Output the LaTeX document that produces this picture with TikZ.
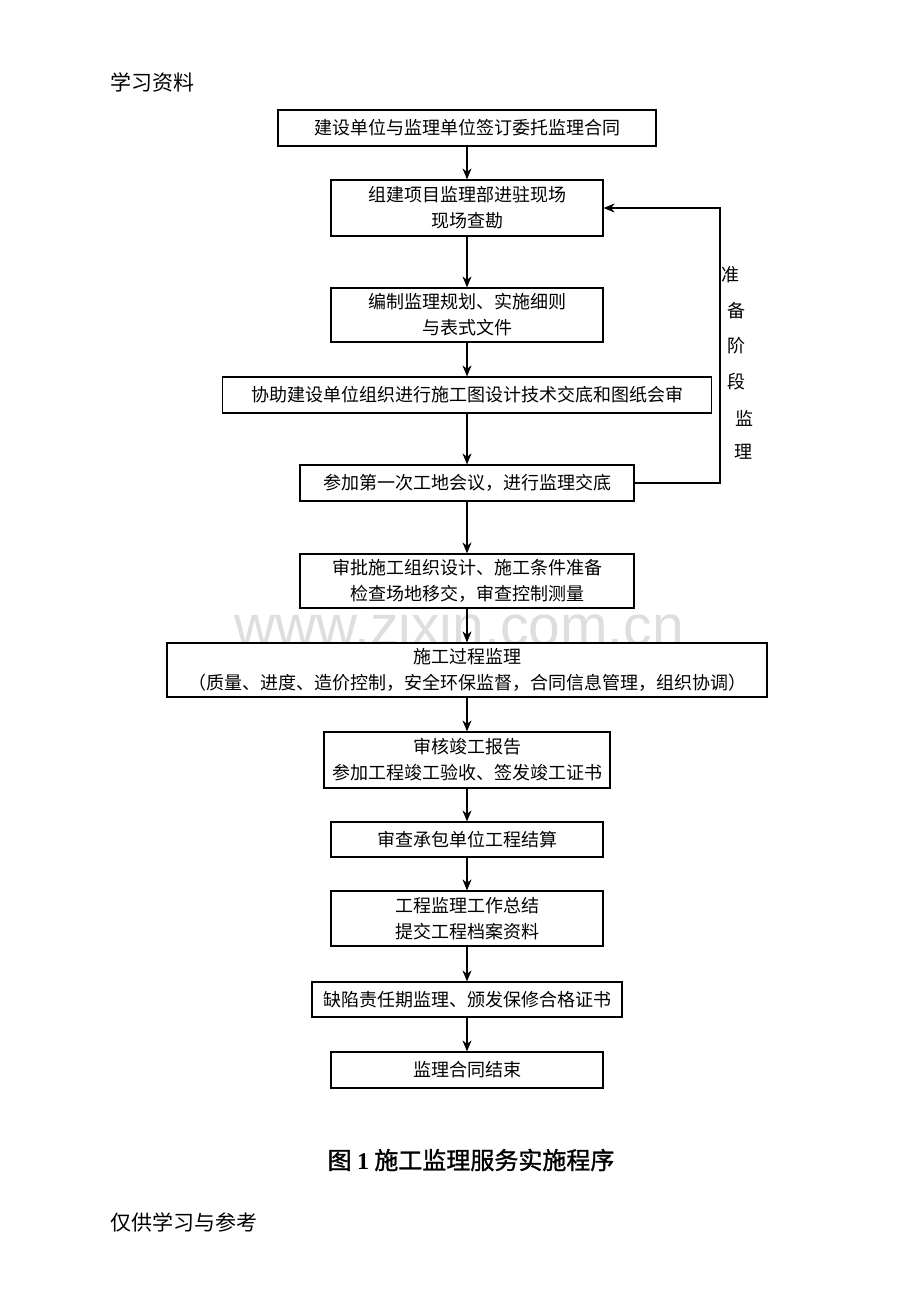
\documentclass[tikz,border=0pt]{standalone}
\usepackage{fontspec}
\setmainfont{Liberation Serif}
\newfontfamily\cjk{Noto Sans CJK SC}
\newfontfamily\cjkbold[FakeBold=1.2]{Noto Sans CJK SC}
\newfontfamily\wmfont{Liberation Sans}
\usetikzlibrary{arrows.meta}
\begin{document}
\begin{tikzpicture}[x=1pt,y=-1pt,
  box/.style={draw, line width=1.2pt, fill=white, align=center, inner sep=0pt,
    font=\cjk\fontsize{18}{26}\selectfont},
  arr/.style={line width=1.2pt, -{Stealth[length=11pt,width=9pt,inset=3.5pt]}},
  vlabel/.style={font=\cjk\fontsize{18}{22}\selectfont, inner sep=0pt},
  plain/.style={font=\cjk\fontsize{21}{24}\selectfont, inner sep=0pt, anchor=west},
]
\useasboundingbox (0,0) rectangle (920,1302);
\fill[white] (0,0) rectangle (920,1302);

% watermark
\node[font=\wmfont\fontsize{57}{60}\selectfont, text=black!13, inner sep=0pt, text height=32pt, text depth=0pt, anchor=base] (wm) at (459,645) {www.zixin.com.cn};

% header / footer
\node[plain] (hdr) at (110,82) {学习资料};
\node[plain] (ftr) at (110,1222) {仅供学习与参考};

% boxes
\node[box, minimum width=378, minimum height=36] (b1) at (467,128) {建设单位与监理单位签订委托监理合同};
\node[box, minimum width=272, minimum height=56] (b2) at (467,208) {组建项目监理部进驻现场\\现场查勘};
\node[box, minimum width=272, minimum height=54] (b3) at (467,315) {编制监理规划、实施细则\\与表式文件};
\node[box, minimum width=489, minimum height=36] (b4) at (467,395) {协助建设单位组织进行施工图设计技术交底和图纸会审};
\node[box, minimum width=334, minimum height=36] (b5) at (467,483) {参加第一次工地会议，进行监理交底};
\node[box, minimum width=334, minimum height=54] (b6) at (467,581) {审批施工组织设计、施工条件准备\\检查场地移交，审查控制测量};
\node[box, minimum width=600, minimum height=54] (b7) at (467,670) {施工过程监理\\（质量、进度、造价控制，安全环保监督，合同信息管理，组织协调）};
\node[box, minimum width=286, minimum height=56] (b8) at (467,760) {审核竣工报告\\参加工程竣工验收、签发竣工证书};
\node[box, minimum width=272, minimum height=35] (b9) at (467,839.5) {审查承包单位工程结算};
\node[box, minimum width=272, minimum height=55] (b10) at (467,918.5) {工程监理工作总结\\提交工程档案资料};
\node[box, minimum width=310, minimum height=35] (b11) at (467,999.5) {缺陷责任期监理、颁发保修合格证书};
\node[box, minimum width=272, minimum height=36] (b12) at (467,1070) {监理合同结束};

% vertical arrows
\draw[arr] (b1) -- (b2);
\draw[arr] (b2) -- (b3);
\draw[arr] (b3) -- (b4);
\draw[arr] (b4) -- (b5);
\draw[arr] (b5) -- (b6);
\draw[arr] (b6) -- (b7);
\draw[arr] (b7) -- (b8);
\draw[arr] (b8) -- (b9);
\draw[arr] (b9) -- (b10);
\draw[arr] (b10) -- (b11);
\draw[arr] (b11) -- (b12);

% feedback loop
\coordinate (fbx) at (720,0);
\draw[arr] (b5.east) -- (b5.east -| fbx) |- (b2.east);

% vertical label
\node[vlabel] (v1) at (730,275) {准};
\node[vlabel] (v2) at (736,311) {备};
\node[vlabel] (v3) at (736,346) {阶};
\node[vlabel] (v4) at (736,382) {段};
\node[vlabel] (v5) at (744,418) {监};
\node[vlabel] (v6) at (743,452) {理};

% caption
\node[inner sep=0pt, font=\cjkbold\fontsize{24}{28}\selectfont] (cap) at (471,1160) {图 {\rmfamily\bfseries 1} 施工监理服务实施程序};
\end{tikzpicture}
\end{document}
